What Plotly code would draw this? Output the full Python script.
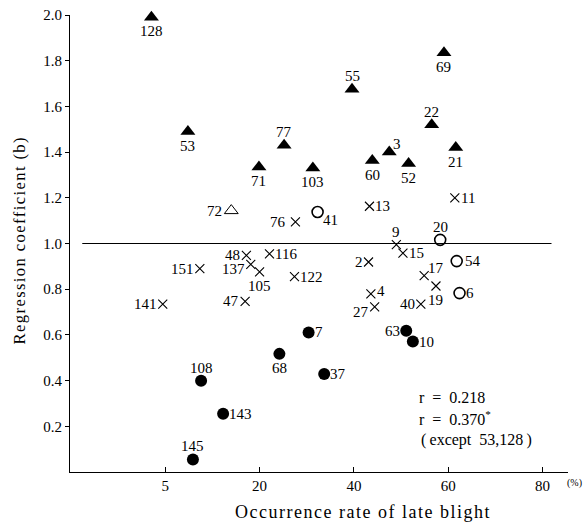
import numpy as np
import plotly.graph_objects as go

# ---- data: occurrence rate of late blight (%) and regression coefficient (b)
# filled triangles
tri_ids = ["128", "53", "71", "77", "103", "55", "69", "22", "3", "60", "52", "21"]
tri_x = [2.8, 8.6, 19.9, 25.2, 31.3, 39.6, 59.1, 56.5, 47.5, 43.9, 51.6, 61.6]
tri_b = [1.99, 1.49, 1.335, 1.43, 1.33, 1.675, 1.835, 1.52, 1.40, 1.363, 1.35, 1.42]
# open triangle
otri_ids = ["72"]
otri_x = [15.5]
otri_b = [1.144]
# crosses
x_ids = ["76", "48", "116", "11", "13", "9", "15", "2", "17", "19", "4", "27", "40",
         "122", "151", "137", "105", "141", "47"]
x_x = [27.6, 17.9, 22.1, 61.4, 43.3, 49.0, 50.4, 43.1, 54.9, 57.4, 43.6, 44.4, 54.2,
       27.4, 10.5, 18.6, 20.0, 4.6, 17.7]
x_b = [1.095, 0.948, 0.955, 1.20, 1.163, 0.995, 0.958, 0.919, 0.859, 0.814, 0.78, 0.723,
       0.735, 0.855, 0.89, 0.909, 0.876, 0.735, 0.747]
# open circles
oc_ids = ["41", "20", "54", "6"]
oc_x = [32.3, 58.3, 61.8, 62.4]
oc_b = [1.138, 1.016, 0.923, 0.783]
# filled circles
fc_ids = ["7", "63", "10", "37", "68", "108", "143", "145"]
fc_x = [30.4, 51.1, 52.5, 33.7, 24.2, 10.7, 14.2, 9.4]
fc_b = [0.611, 0.618, 0.571, 0.429, 0.517, 0.399, 0.255, 0.055]

# axis ticks (the printed axis spaces 5, 20, 40, 60, 80 evenly)
x_tick_labels = [5, 20, 40, 60, 80]
y_tick_vals = [0.2, 0.4, 0.6, 0.8, 1.0, 1.2, 1.4, 1.6, 1.8, 2.0]
ref_b = 1.0

# ---- label placement (style only)
tri_lab = ["B", "B", "B", "T", "B", "T", "B", "T", "TR", "B", "B", "B"]
otri_lab = ["L9"]
x_lab = ["L9", "L", "R", "R", "R", "T", "R", "L", "TR", "B", "TR4", "BL", "L",
         "R", "L", "BL", "B", "L", "L"]
oc_lab = ["BR", "T", "R8", "R"]
fc_lab = ["R", "L", "R", "R", "B", "T", "R", "T"]

PLACE = {
    "L": ("right", "middle", -5, 0), "L9": ("right", "middle", -8, 0),
    "R": ("left", "middle", 5, 0), "R8": ("left", "middle", 7, 0),
    "T": ("center", "middle", 0, 13), "B": ("center", "middle", 0, -14),
    "TR": ("left", "middle", 3, 8), "TR4": ("left", "middle", 5, 3),
    "BR": ("left", "middle", 4, -8), "BL": ("right", "middle", -5, -5),
}


def to_axis(p):
    """Map occurrence rate (%) onto the chart's axis (5->20 drawn as wide as 20->40)."""
    p = np.asarray(p, dtype=float)
    return np.where(p < 20, (p - 5) * 20.0 / 15.0, p)


FONT = "Liberation Serif"
fig = go.Figure()


def add(ids, xs, bs, labs, symbol, size, color, line_w=0):
    ax = to_axis(xs)
    fig.add_trace(go.Scatter(
        x=ax, y=bs, mode="markers",
        marker=dict(symbol=symbol, size=size, color=color,
                    line=dict(width=line_w, color="black")),
        cliponaxis=False, showlegend=False, hoverinfo="skip"))
    for t, xv, yv, code in zip(ids, ax, bs, labs):
        xa, ya, dx, dy = PLACE[code]
        fig.add_annotation(x=xv, y=yv, xref="x", yref="y", text=t, showarrow=False,
                           xanchor=xa, yanchor=ya, xshift=dx, yshift=dy, borderpad=0,
                           font=dict(family=FONT, size=15, color="black"))


add(tri_ids, tri_x, tri_b, tri_lab, "triangle-up", 13, "black")
add(otri_ids, otri_x, otri_b, otri_lab, "triangle-up-open", 12, "black", 1)
add(x_ids, x_x, x_b, x_lab, "x-thin-open", 9, "black", 1.1)
add(oc_ids, oc_x, oc_b, oc_lab, "circle-open", 11, "black", 1.6)
add(fc_ids, fc_x, fc_b, fc_lab, "circle", 12, "black")

fig.add_shape(type="line", xref="x", yref="y", x0=-17.6, x1=81.9, y0=ref_b, y1=ref_b,
              line=dict(color="black", width=1.2))

fig.update_xaxes(range=[-20.2, 85.4], tickvals=to_axis(x_tick_labels),
                 ticktext=[str(v) for v in x_tick_labels], ticks="inside", ticklen=5,
                 tickwidth=1, tickcolor="black", showline=True, linecolor="black",
                 linewidth=1.2, showgrid=False, zeroline=False, ticklabeloverflow="allow",
                 tickfont=dict(family=FONT, size=15, color="black"))
fig.update_yaxes(range=[0, 2.0], tickvals=y_tick_vals,
                 ticktext=[f"{v:.1f}" for v in y_tick_vals], ticks="outside", ticklen=4,
                 tickwidth=1, tickcolor="black", showline=True, linecolor="black",
                 linewidth=1.2, showgrid=False, zeroline=False, ticklabeloverflow="allow",
                 tickfont=dict(family=FONT, size=15, color="black"))

HS = "\u200a"  # hair space: the original is set with wide letter spacing


def spaced(s):
    return HS.join(s)


fig.add_annotation(text=spaced("Occurrence rate of late blight"), xref="paper",
                   yref="paper", x=0.586, y=-0.088, showarrow=False, xanchor="center",
                   yanchor="middle", font=dict(family=FONT, size=18, color="black"))
fig.add_annotation(text=spaced("Regression coefficient (b)"), xref="paper", yref="paper",
                   x=-0.102, y=0.505, showarrow=False, textangle=-90,
                   xanchor="center", yanchor="middle",
                   font=dict(family=FONT, size=16.6, color="black"))
fig.add_annotation(text="(%)", xref="paper", yref="paper", x=0.993, y=-0.024,
                   showarrow=False, xanchor="left", yanchor="middle",
                   font=dict(family=FONT, size=10, color="black"))
ann_font = dict(family=FONT, size=16, color="black")
fig.add_annotation(text="r\u2002=\u20020.218", xref="paper", yref="paper", x=0.697,
                   y=0.162, showarrow=False, xanchor="left", yanchor="middle",
                   font=ann_font)
fig.add_annotation(text="r\u2002=\u20020.370<sup>*</sup>", xref="paper", yref="paper",
                   x=0.697, y=0.119, showarrow=False, xanchor="left", yanchor="middle",
                   font=ann_font)
fig.add_annotation(text="(\u2009except\u200253,128\u2009)", xref="paper", yref="paper",
                   x=0.700, y=0.0695, showarrow=False, xanchor="left", yanchor="middle",
                   font=ann_font)

fig.update_layout(width=585, height=525, margin=dict(l=70, r=17, t=7, b=53),
                  plot_bgcolor="white", paper_bgcolor="white")
fig.write_html("out.html", config={"displayModeBar": False},
               post_script="document.body.style.margin='0';"
                           "document.body.style.overflow='hidden';")
